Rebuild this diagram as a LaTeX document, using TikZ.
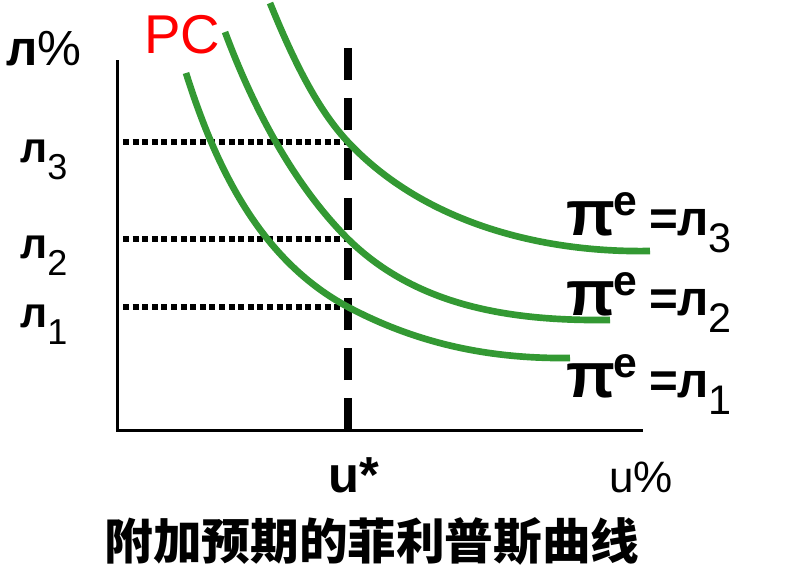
\documentclass[tikz,border=0pt]{standalone}
\usepackage{fontspec}
\setmainfont{Liberation Sans}
\newfontfamily\cjk{Noto Sans CJK SC}
\usetikzlibrary{positioning}
\definecolor{pcgreen}{RGB}{51,153,51}
\newcommand{\fsz}[1]{\fontsize{#1}{#1}\selectfont}
\newcommand{\lsub}[3]{{\bfseries л}\raisebox{#2}{\mdseries\fsz{#3}#1}}

\begin{document}
\begin{tikzpicture}[
  x=0.75pt,y=-0.75pt,
  every node/.style={inner sep=0pt},
  axis/.style={line width=2.25pt},
  pc/.style={pcgreen,line width=5pt},
  level/.style={line width=4.5pt,dash pattern=on 4.5pt off 2.7pt},
  natural/.style={line width=6pt,dash pattern=on 24pt off 13.5pt},
  tag/.style={font=\fsz{32},anchor=base west},
  expect/.style={font=\fsz{37}\bfseries,anchor=base west}
]
  \useasboundingbox (0,0) rectangle (786,586);
  % axes
  \coordinate (o) at (117,430);
  \coordinate (ytop) at (117,60);
  \coordinate (xend) at (643,430);
  \draw[axis] (ytop) -- (o) -- (xend);
  % natural rate
  \coordinate (ub) at (348,430);
  \coordinate (ut) at (348,43);
  \draw[natural] (ub) -- (ut);
  % expected inflation levels
  \foreach \n/\y in {3/142,2/239,1/307} {
    \coordinate (l\n) at (123,\y);
    \coordinate (r\n) at (348,\y);
    \draw[level] (l\n) -- (r\n);
  }
  % curves
  \draw[pc] (186,73) .. controls (218,175) and (264,262) .. (r1)
            .. controls (418,344) and (490,359) .. (570,358);
  \draw[pc] (225,32) .. controls (253,107) and (293,184) .. (r2)
            .. controls (420,310) and (520,321) .. (610,320);
  \draw[pc] (270,3) .. controls (294,62) and (318,110) .. (r3)
            .. controls (423,222) and (540,253) .. (650,251);
  % labels
  \node[font=\fsz{37},anchor=base west] (pct) at (6,65) {{\bfseries л}\%};
  \node[tag] (p3) at (20,162) {\lsub{3}{-13pt}{27}};
  \node[tag] (p2) at (20,258) {\lsub{2}{-13pt}{27}};
  \node[tag] (p1) at (20,327) {\lsub{1}{-13pt}{27}};
  \node[red,font=\fsz{41},anchor=base west] (pc) at (144,53) {PC};
  \node[font=\fsz{38}\bfseries,anchor=base] (ustar) at (354,492) {u*};
  \node[font=\fsz{33},anchor=base] (upct) at (641,492) {u\%};
  \foreach \n/\y in {3/235,2/315,1/397}
    \node[expect] (e\n) at (566,\y) {{\fsz{48}π}\kern-1pt\raisebox{15pt}{\fsz{32}e}\kern9pt=\kern-1pt\lsub{\n}{-13pt}{31}};
  \node[font=\cjk\bfseries\fsz{36.5}] (title) at (372,541) {附加预期的菲利普斯曲线};
\end{tikzpicture}
\end{document}
